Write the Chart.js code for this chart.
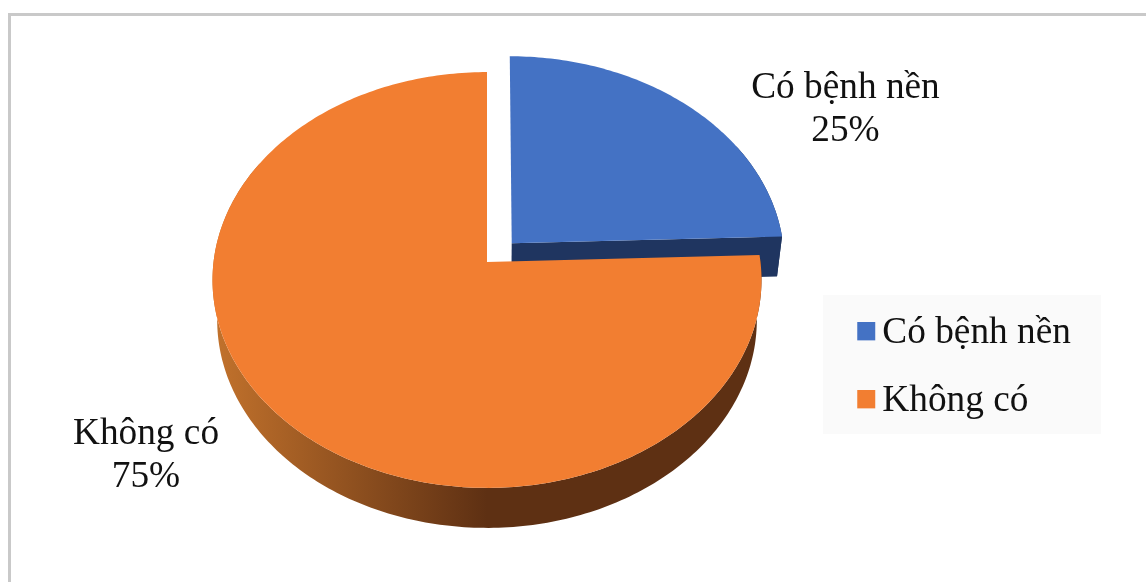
<!DOCTYPE html>
<html>
<head>
<meta charset="utf-8">
<style>
  html, body { margin: 0; padding: 0; background: #fff; }
  canvas { display: block; }
</style>
<script src="https://cdn.jsdelivr.net/npm/chart.js@4/dist/chart.umd.js"></script>
</head>
<body>
<canvas id="pie" width="1146" height="582"></canvas>
<script>
// Share of patients with and without an underlying condition
const categories = ['Có bệnh nền', 'Không có'];
const shares = [25, 75];
const topColors = ['#4472C4', '#F27E31'];
const wallStops = [['#1F3560', '#1F3560'], ['#C2722C', '#5E3013']];
const explodeOffsets = [23, 0];
const labelAnchors = [[845.5, 98], [146, 444]];

// Tilted-disc projection applied to each slice
const TILT = { kx: 1.532, ky: 1.156, persp: -0.0865, skew: 0.034, depth: 40, taper: 0.017 };
const FONT = '"Liberation Serif", "Times New Roman", serif';
const FONT_SIZE = 37.3;
const LINE_GAP = 43;

function project(el, u, v) {
  const d = 1 + TILT.persp * v;
  const x = el.x + TILT.kx * el.outerRadius * u / d;
  const y = el.y + TILT.ky * el.outerRadius * v / d;
  return [x, y];
}

// The near-right part of the disc leans up slightly in the tilted view
function viewAngle(a) {
  const c = Math.max(Math.cos(a), 0);
  return a - TILT.skew * c * c;
}

function lower(el, p) {
  return [p[0] + (el.x - p[0]) * TILT.taper, p[1] + TILT.depth];
}

function fillPolygon(ctx, pts) {
  ctx.beginPath();
  pts.forEach((p, i) => (i ? ctx.lineTo(p[0], p[1]) : ctx.moveTo(p[0], p[1])));
  ctx.closePath();
  ctx.fill();
}

// Slices are rendered as a perspective disc with a side wall
Chart.ArcElement.prototype.draw = function (ctx) {
  const el = this;
  const idx = el.$context.dataIndex;
  const r = el.outerRadius;
  const mid = (el.startAngle + el.endAngle) / 2;
  const e = (el.options.offset || 0) / r;
  const ox = e * Math.cos(mid), oy = e * Math.sin(mid);
  const apex = project(el, ox, oy);
  const steps = Math.max(8, Math.ceil((el.endAngle - el.startAngle) * 60));
  const rim = [];
  const frontRim = [];
  for (let i = 0; i <= steps; i++) {
    const a = viewAngle(el.startAngle + (el.endAngle - el.startAngle) * i / steps);
    const p = project(el, ox + Math.cos(a), oy + Math.sin(a));
    rim.push(p);
    // Only the part of the rim facing the viewer shows a wall
    if (Math.sin(a) > -0.5) frontRim.push(p);
  }
  const wall = ctx.createLinearGradient(el.x - TILT.kx * r, 0, el.x, 0);
  wall.addColorStop(0, wallStops[idx][0]);
  wall.addColorStop(1, wallStops[idx][1]);

  ctx.save();
  ctx.fillStyle = wall;
  const last = rim[rim.length - 1];
  fillPolygon(ctx, [...frontRim, ...frontRim.map(p => lower(el, p)).reverse()]);
  fillPolygon(ctx, [apex, last, lower(el, last), lower(el, apex)]);
  ctx.fillStyle = el.options.backgroundColor;
  fillPolygon(ctx, [apex, ...rim]);
  ctx.restore();
};

function legendMarker(color) {
  const c = document.createElement('canvas');
  c.width = 60;
  c.height = 22;
  const g = c.getContext('2d');
  g.fillStyle = color;
  g.fillRect(27, 0, 18, 18);
  return c;
}

const framePlugin = {
  id: 'frame',
  beforeDraw(chart) {
    const { ctx, legend } = chart;
    ctx.save();
    ctx.fillStyle = '#C9C9C9';
    ctx.fillRect(8, 13, 1138, 3);
    ctx.fillRect(8, 13, 3, 569);
    ctx.fillStyle = '#FAFAFA';
    ctx.fillRect(legend.left - 3, legend.top + 11, 278, 139);
    ctx.restore();
  }
};

// Places the legend over the right of the plot
const legendPlacement = {
  id: 'legendPlacement',
  afterLayout(chart) {
    const l = chart.legend;
    const w = 260, h = 220;
    l.left = 826; l.right = 826 + w; l.width = w;
    l.top = 284; l.bottom = 284 + h; l.height = h;
  }
};

const sliceLabels = {
  id: 'sliceLabels',
  afterDraw(chart) {
    const { ctx } = chart;
    const total = shares.reduce((a, b) => a + b, 0);
    ctx.save();
    ctx.font = FONT_SIZE + 'px ' + FONT;
    ctx.fillStyle = '#111';
    ctx.textAlign = 'center';
    ctx.textBaseline = 'alphabetic';
    categories.forEach((name, i) => {
      const [x, y] = labelAnchors[i];
      ctx.fillText(name, x, y);
      ctx.fillText(Math.round(shares[i] / total * 100) + '%', x, y + LINE_GAP);
    });
    ctx.restore();
  }
};

new Chart(document.getElementById('pie'), {
  type: 'pie',
  data: {
    labels: categories,
    datasets: [{
      data: shares,
      backgroundColor: topColors,
      offset: explodeOffsets,
      hoverOffset: 0,
      borderWidth: 0,
      clip: false
    }]
  },
  options: {
    responsive: false,
    animation: false,
    events: [],
    layout: { padding: { left: 212, right: 384, top: 72, bottom: 130 } },
    plugins: {
      tooltip: { enabled: false },
      legend: {
        position: 'chartArea',
        align: 'start',
        labels: {
          font: { family: FONT, size: FONT_SIZE, lineHeight: 1 },
          color: '#111',
          boxWidth: 7,
          boxHeight: 17,
          padding: 30.7,
          usePointStyle: true,
          generateLabels: () => categories.map((text, i) => ({
            text,
            index: i,
            fillStyle: topColors[i],
            strokeStyle: topColors[i],
            lineWidth: 0,
            fontColor: '#111',
            pointStyle: legendMarker(topColors[i])
          }))
        }
      }
    }
  },
  plugins: [framePlugin, legendPlacement, sliceLabels]
});
</script>
</body>
</html>
